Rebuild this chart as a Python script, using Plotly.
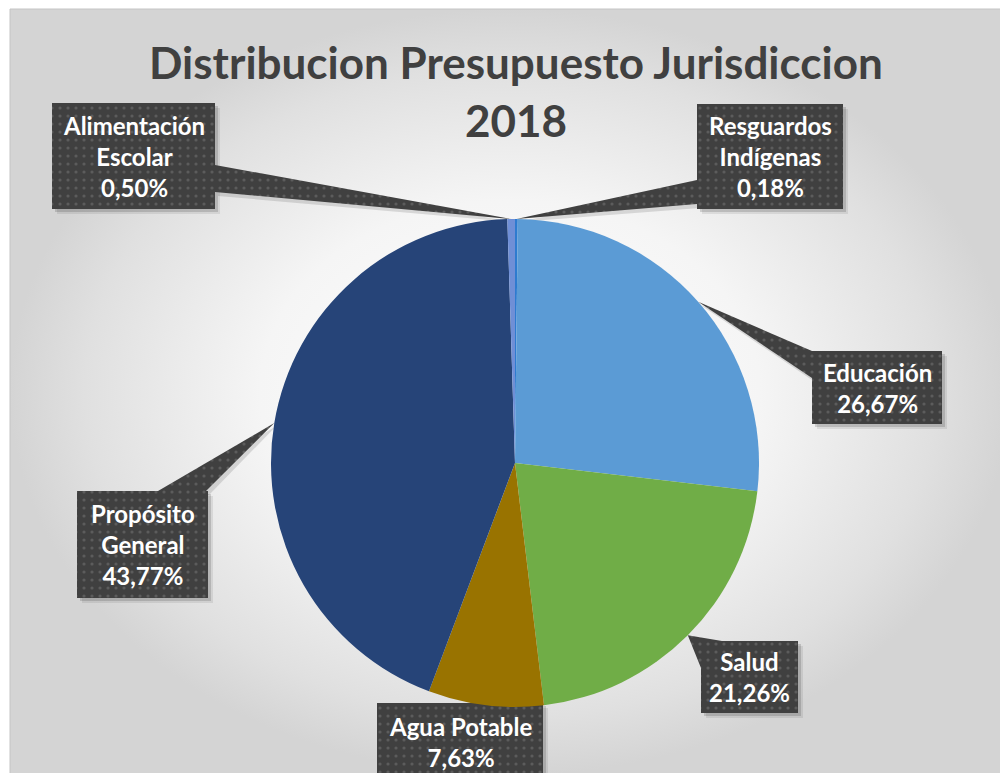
import math
import plotly.graph_objects as go

# ---------------- data ----------------
categories = ["Resguardos Indígenas", "Educación", "Salud", "Agua Potable",
              "Propósito General", "Alimentación Escolar"]
values = [0.18, 26.67, 21.26, 7.63, 43.77, 0.50]
label_lines = [["Resguardos", "Indígenas"], ["Educación"], ["Salud"], ["Agua Potable"],
               ["Propósito", "General"], ["Alimentación", "Escolar"]]
colors = ["#2E7BCF", "#5B9BD5", "#70AD47", "#997300", "#264478", "#6F8FD6"]
title_lines = ["Distribucion Presupuesto Jurisdiccion", "2018"]

# ---------------- layout constants (page pixels) ----------------
W, H = 1008, 773
OFF = 8  # default body margin of the html page
CX, CY, R = 515, 463, 244
AREA = (10, 9, W + 2, H + 2)  # chart area x0, y0, x1, y1

boxes = {
    "Resguardos Indígenas": (697, 843, 104, 209),
    "Educación": (812, 942, 351, 424),
    "Salud": (701, 798, 641, 713),
    "Agua Potable": (377, 543, 703, 781),
    "Propósito General": (77, 208, 491, 598),
    "Alimentación Escolar": (52, 215, 103, 209),
}
bases = {
    "Resguardos Indígenas": [(697, 180), (697, 204)],
    "Educación": [(812, 351), (812, 378)],
    "Salud": [(701, 668), (701, 641), (722, 641)],
    "Propósito General": [(158, 491), (206, 491)],
    "Alimentación Escolar": [(215, 165), (215, 192)],
}

BOX_BG = "#404040"
pattern = dict(shape=".", bgcolor=BOX_BG, fgcolor="#5c5c5c", size=8, solidity=0.12, fillmode="replace")

fig = go.Figure()

# background radial gradient of chart area
x0, y0, x1, y1 = AREA
fig.add_trace(go.Scatter(
    x=[x0, x1, x1, x0, x0], y=[y0, y0, y1, y1, y0], mode="lines",
    line=dict(color="#c4c4c4", width=1), fill="toself",
    fillgradient=dict(type="radial", colorscale=[[0, "#ffffff"], [0.5, "#f5f5f5"], [0.85, "#e0e0e0"], [1, "#d4d4d4"]]),
    hoverinfo="skip", showlegend=False))

total = sum(values)
cum = 0.0
apex = {}
for cat, v in zip(categories, values):
    ang = math.radians((cum + v / 2) / total * 360)
    apex[cat] = (CX + R * math.sin(ang), CY - R * math.cos(ang))
    cum += v

def poly(pts, **kw):
    xs = [p[0] for p in pts] + [pts[0][0]]
    ys = [p[1] for p in pts] + [pts[0][1]]
    fig.add_trace(go.Scatter(x=xs, y=ys, mode="lines", line=dict(width=0), fill="toself",
                             hoverinfo="skip", showlegend=False, **kw))

# shadows
for cat in categories:
    bx0, bx1, by0, by1 = boxes[cat]
    for off, a in ((5, 0.08), (3, 0.14)):
        poly([(bx0 + off, by0 + off), (bx1 + off, by0 + off), (bx1 + off, by1 + off), (bx0 + off, by1 + off)],
             fillcolor=f"rgba(0,0,0,{a})")
    if cat in bases:
        ax, ay = apex[cat]
        poly([(ax + 2, ay + 3)] + [(px + 3, py + 4) for px, py in bases[cat]], fillcolor="rgba(0,0,0,0.12)")

# callout wedges and boxes
for cat in categories:
    if cat in bases:
        poly([apex[cat]] + bases[cat], fillcolor=BOX_BG, fillpattern=pattern)
    bx0, bx1, by0, by1 = boxes[cat]
    poly([(bx0, by0), (bx1, by0), (bx1, by1), (bx0, by1)], fillcolor=BOX_BG, fillpattern=pattern)

# pie (domain in figure fractions, figure starts at page pixel OFF)
FW, FH = W - OFF, H - OFF
fig.add_trace(go.Pie(
    labels=categories, values=values, sort=False, direction="clockwise", rotation=0,
    marker=dict(colors=colors, line=dict(width=0)), textinfo="none", hoverinfo="label+percent",
    showlegend=False,
    domain=dict(x=[(CX - R - OFF) / FW, (CX + R - OFF) / FW],
                y=[1 - (CY + R - OFF) / FH, 1 - (CY - R - OFF) / FH])))

FONT = "Lato"
annotations = []
for cat, v, lines in zip(categories, values, label_lines):
    bx0, bx1, by0, by1 = boxes[cat]
    txt = "<br>".join(lines + [f"{v:.2f}".replace(".", ",") + "%"])
    annotations.append(dict(x=(bx0 + bx1) / 2, y=(by0 + by1) / 2, xref="x", yref="y", text=txt,
                            showarrow=False, xanchor="center", yanchor="middle", align="center",
                            font=dict(family=FONT, size=24, color="white", weight="bold")))
for t, ty in zip(title_lines, (62, 120)):
    annotations.append(dict(x=516, y=ty, xref="x", yref="y", text=t, showarrow=False,
                            xanchor="center", yanchor="middle",
                            font=dict(family=FONT, size=44, color="#404040", weight="bold")))

fig.update_layout(
    width=FW, height=FH, margin=dict(l=0, r=0, t=0, b=0),
    paper_bgcolor="white", plot_bgcolor="rgba(0,0,0,0)",
    xaxis=dict(range=[OFF, W], visible=False, fixedrange=True, domain=[0, 1]),
    yaxis=dict(range=[H, OFF], visible=False, fixedrange=True, domain=[0, 1]),
    annotations=annotations,
)

fig.write_html("out.html")
